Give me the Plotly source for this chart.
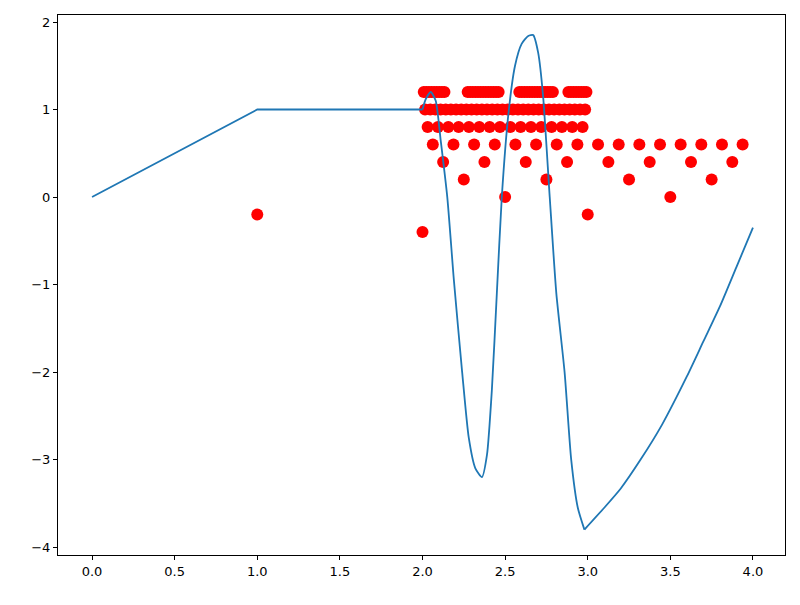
import plotly.graph_objects as go

# curve
line_x = [0.0, 1.0, 2.0, 2.02, 2.05, 2.08, 2.11, 2.15, 2.19, 2.24, 2.28, 2.32, 2.36, 2.39, 2.42, 2.45, 2.48, 2.52, 2.56, 2.60, 2.64, 2.67, 2.70, 2.73, 2.77, 2.81, 2.86, 2.90, 2.94, 2.98,
          3.1, 3.2, 3.32, 3.45, 3.6, 3.7, 3.8, 3.9, 4.0]
line_y = [0.0, 1.0, 1.0, 1.12, 1.2, 1.1, 0.65, 0.0, -0.95, -2.0, -2.75, -3.1, -3.2, -2.95, -2.2, -1.1, 0.0, 0.95, 1.5, 1.75, 1.84, 1.85, 1.65, 1.15, 0.0, -1.1, -2.0, -3.0, -3.55, -3.8,
          -3.55, -3.33, -3.0, -2.6, -2.05, -1.65, -1.25, -0.8, -0.35]

# red dots, one list per row
row_m04_x = [2.0]
row_m02_x = [1.0, 3.0]
row_00_x = [2.5, 3.5]
row_02_x = [2.25, 2.75, 3.25, 3.75]
row_04_x = [2.125, 2.375, 2.625, 2.875, 3.125, 3.375, 3.625, 3.875]
row_06_x = [2.0625, 2.1875, 2.3125, 2.4375, 2.5625, 2.6875, 2.8125, 2.9375,
            3.0625, 3.1875, 3.3125, 3.4375, 3.5625, 3.6875, 3.8125, 3.9375]
row_08_x = [2 + k / 32 for k in range(1, 32, 2)]
row_10_x = [2 + k / 64 for k in range(1, 64, 2)]
row_12_x = [2 + k / 128 for k in list(range(1, 19, 2)) + list(range(35, 61, 2)) + list(range(75, 103, 2)) + list(range(113, 128, 2))]

rows = [(row_m04_x, -0.4), (row_m02_x, -0.2), (row_00_x, 0.0), (row_02_x, 0.2), (row_04_x, 0.4),
        (row_06_x, 0.6), (row_08_x, 0.8), (row_10_x, 1.0), (row_12_x, 1.2)]

fig = go.Figure()
for xs, yv in rows:
    fig.add_trace(go.Scatter(x=xs, y=[yv] * len(xs), mode="markers",
                             marker=dict(color="red", size=12, line=dict(width=0))))

# straight part, then two smooth pieces joined at the sharp minimum
i2 = line_x.index(2.0)
imin = line_x.index(2.98)
segments = [(0, i2 + 1, "linear"), (i2, imin + 1, "spline"), (imin, len(line_x), "spline")]
for a, b, shape in segments:
    fig.add_trace(go.Scatter(x=line_x[a:b], y=line_y[a:b], mode="lines",
                             line=dict(color="#1f77b4", width=1.8, shape=shape, smoothing=0.6)))

axis = dict(showgrid=False, zeroline=False, showline=True, linecolor="black", linewidth=1, mirror=True,
            ticks="outside", ticklen=4, tickcolor="black", tickfont=dict(size=13, color="black", family="DejaVu Sans"))
fig.update_layout(
    width=800, height=605, showlegend=False,
    plot_bgcolor="white", paper_bgcolor="white",
    margin=dict(l=50, r=23, t=7, b=58, autoexpand=False),
    xaxis=dict(axis, range=[-0.206, 4.194], tickvals=[0, 0.5, 1, 1.5, 2, 2.5, 3, 3.5, 4],
               ticktext=["0.0", "0.5", "1.0", "1.5", "2.0", "2.5", "3.0", "3.5", "4.0"]),
    yaxis=dict(axis, range=[-4.09, 2.08], tickvals=[-4, -3, -2, -1, 0, 1, 2],
               ticktext=["\u22124", "\u22123", "\u22122", "\u22121", "0", "1", "2"]),
)
fig.write_html("out.html")
